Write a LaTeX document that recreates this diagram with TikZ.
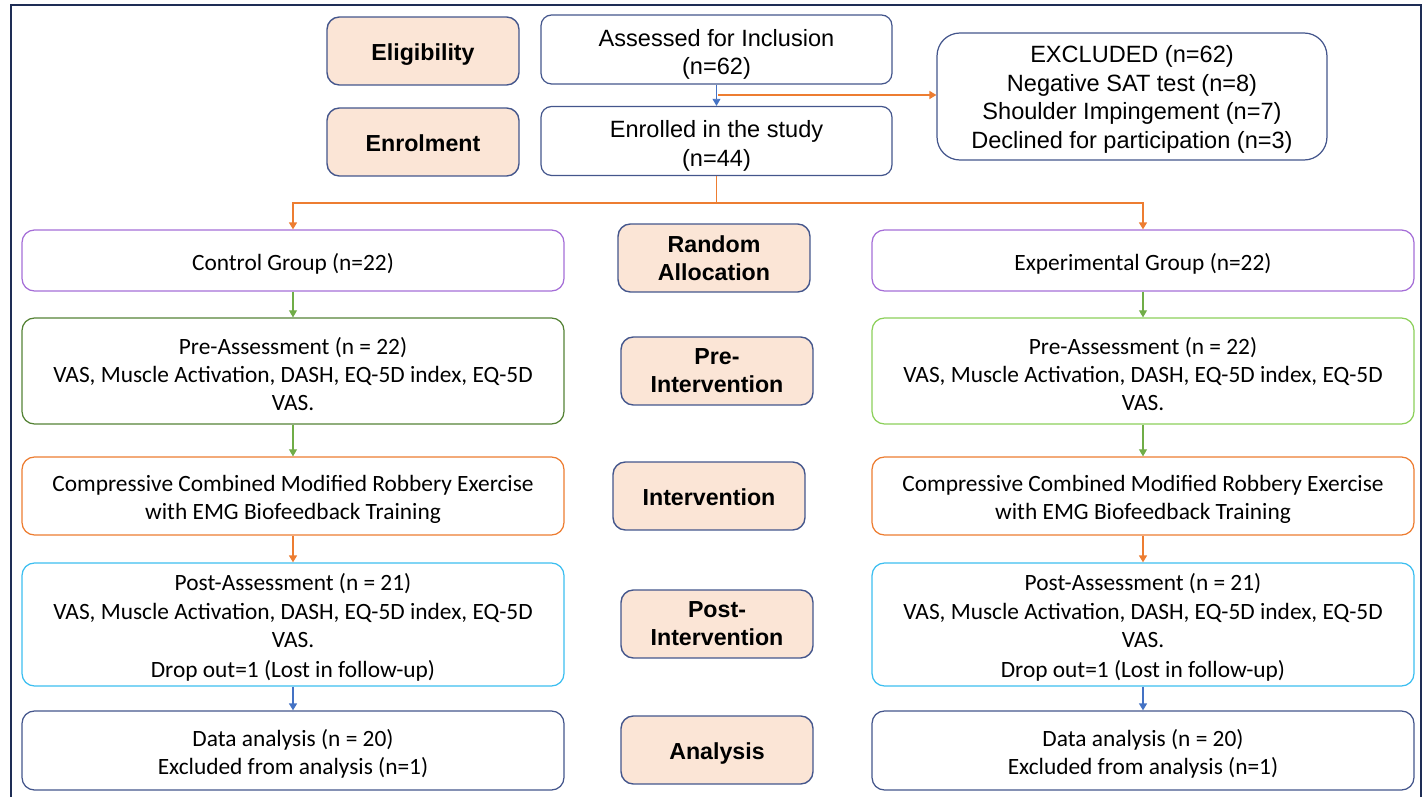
\documentclass[tikz,border=0pt]{standalone}
\usepackage{fontspec}
\setmainfont{Carlito}
\newfontfamily\arialfont{Liberation Sans}
\usepackage{tikz}
\usetikzlibrary{arrows.meta}
\definecolor{peach}{RGB}{251,229,214}
\definecolor{slate}{RGB}{68,86,140}
\definecolor{navy}{RGB}{30,45,85}
\definecolor{purp}{RGB}{165,110,215}
\definecolor{darkgrn}{RGB}{84,130,53}
\definecolor{litegrn}{RGB}{140,208,90}
\definecolor{orng}{RGB}{237,125,49}
\definecolor{cyanb}{RGB}{60,190,240}
\definecolor{bluearr}{RGB}{68,114,196}
\definecolor{greenarr}{RGB}{112,173,71}
% struts that push the text a little down in its box
\newcommand{\sst}[1][16.8pt]{\rule[-2.8pt]{0pt}{#1}}
\newcommand{\tst}[1][15.2pt]{\rule{0pt}{#1}}
\newcommand{\gst}{\rule{0pt}{13.4pt}}
\tikzset{
  stage/.style={draw=slate, fill=peach, rounded corners=7pt, line width=0.8pt,
    minimum width=3.84cm, minimum height=1.36cm, align=center,
    font=\arialfont\bfseries\fontsize{13.2}{16}\selectfont},
  topbox/.style={draw=slate, rounded corners=6pt, line width=0.7pt,
    minimum width=7.02cm, minimum height=1.38cm, align=center, inner sep=1pt,
    font=\arialfont\fontsize{13.4}{16.2}\selectfont},
  grp/.style={draw=#1, rounded corners=7pt, line width=0.7pt,
    minimum width=10.84cm, align=center, inner sep=0pt,
    font=\fontsize{13.3}{16}\selectfont},
  arr/.style={draw=#1, -{Triangle[length=4pt,width=4.5pt]}}
}

\begin{document}
\begin{tikzpicture}[x=0.02cm, y=-0.02cm]
                \useasboundingbox (0,0) rectangle (1428,797);

                % outer frame (open at the bottom)
                \draw[navy, line width=0.9pt] (11,797) -- (11,5) -- (1421,5) -- (1421,797);

                % Stage boxes in the middle
                \node[stage] (elig) at (423,51) {\sst Eligibility};
                \node[stage] (enrol) at (423,142) {\sst Enrolment};
                \node[stage] (rand) at (714,258) {\sst[11.3pt]Random\\Allocation};
                \node[stage] (preint) at (717,371) {\sst[11.3pt]Pre-\\Intervention};
                \node[stage] (interv) at (709,496) {\sst Intervention};
                \node[stage] (postint) at (717,624) {\sst[11.3pt]Post-\\Intervention};
                \node[stage] (anal) at (717,750) {\sst Analysis};

                % Top boxes
                \node[topbox] (assess) at (716.5,49.5) {\tst Assessed for Inclusion\\(n=62)};
                \node[topbox] (enrolled) at (716.5,141) {\tst Enrolled in the study\\(n=44)};
                \node[topbox, minimum width=7.8cm, minimum height=2.54cm, rounded corners=13pt]
                    (excl) at (1132,96.5)
                    {\tst[13.2pt]EXCLUDED (n=62)\\Negative SAT test (n=8)\\Shoulder Impingement (n=7)\\Declined for participation (n=3)};

                % arrows at the top
                \draw[arr=bluearr, line width=0.5pt] (assess.south) -- (enrolled.north);
                \coordinate (split) at (718,95);
                \draw[arr=orng, line width=1pt] (split) -- (split -| excl.west);
                \draw[orng, line width=1pt] (enrolled.south) -- ++(0,27) coordinate (fork);

                % Two group columns
                \foreach \s/\x/\lbl/\pc in {L/293/Control/darkgrn, R/1143/Experimental/litegrn}{
                    \node[grp=purp, minimum height=1.22cm] (grp\s) at (\x,260.5) {\gst\lbl\ Group (n=22)};
                    \node[grp=\pc, minimum height=2.12cm] (pre\s) at (\x,371)
                        {\gst Pre-Assessment (n = 22)\\VAS, Muscle Activation, DASH, EQ-5D index, EQ-5D\\VAS.};
                    \node[grp=orng, minimum height=1.56cm] (comp\s) at (\x,496)
                        {\gst Compressive Combined Modified Robbery Exercise\\with EMG Biofeedback Training};
                    \node[grp=cyanb, minimum height=2.46cm] (post\s) at (\x,624.5)
                        {\gst Post-Assessment (n = 21)\\VAS, Muscle Activation, DASH, EQ-5D index, EQ-5D\\VAS.\\[1.5pt]Drop out=1 (Lost in follow-up)};
                    \node[grp=slate, minimum height=1.58cm] (data\s) at (\x,750.5)
                        {\gst Data analysis (n = 20)\\Excluded from analysis (n=1)};

                    %arrows down the column
                    \draw[arr=orng, line width=1pt] (fork) -| (grp\s.north);
                    \draw[arr=greenarr, line width=0.6pt] (grp\s.south) -- (pre\s.north);
                    \draw[arr=greenarr, line width=0.6pt] (pre\s.south) -- (comp\s.north);
                    \draw[arr=orng, line width=1pt] (comp\s.south) -- (post\s.north);
                    \draw[arr=bluearr, line width=0.9pt] (post\s.south) -- (data\s.north);
                }
\end{tikzpicture}
\end{document}
